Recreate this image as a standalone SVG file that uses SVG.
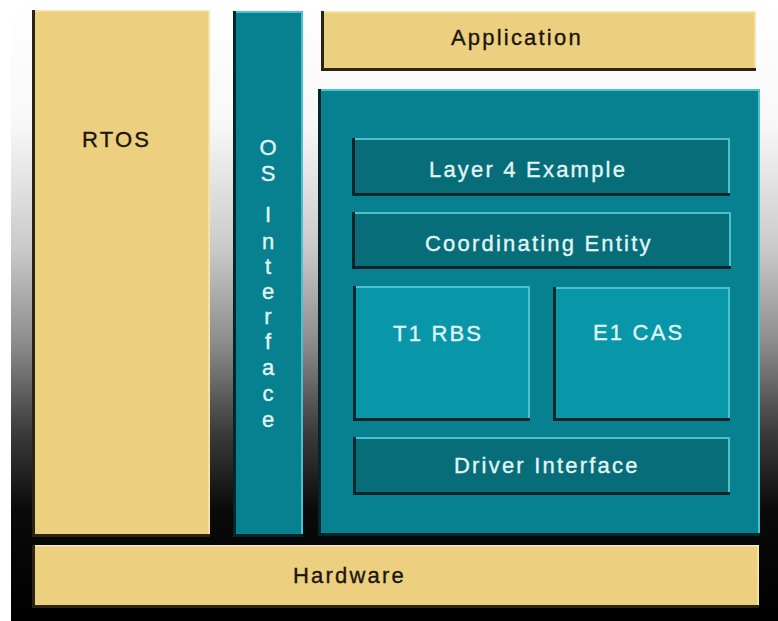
<svg xmlns="http://www.w3.org/2000/svg" width="778" height="621" viewBox="0 0 778 621">
<defs>
<linearGradient id="bg" x1="0" y1="0" x2="0" y2="1">
<stop offset="0" stop-color="#ffffff"/>
<stop offset="0.2" stop-color="#f8f8f8"/>
<stop offset="0.4" stop-color="#cacaca"/>
<stop offset="0.56" stop-color="#888888"/>
<stop offset="0.69" stop-color="#3e3e3e"/>
<stop offset="0.82" stop-color="#0a0a0a"/>
<stop offset="1" stop-color="#000000"/>
</linearGradient>
<style>
.tan{fill:#ecd07f}
.teal{fill:#07808f}
.dk{fill:#066d79}
.lt{fill:#0896a9}
.sh-tan{fill:none;stroke:#2c2412;stroke-width:3}
.hl-tan{fill:none;stroke:#f8e8b8;stroke-width:1.5}
.sh-teal{fill:none;stroke:#00262c;stroke-width:3}
.hl-teal{fill:none;stroke:#4cc0cc;stroke-width:2}
text{font-family:"Liberation Sans",Arial,sans-serif;font-size:22px;letter-spacing:2.2px;stroke-width:0.35px}
.tx-d{fill:#1a160e;stroke:#1a160e}
.tx-l{fill:#e2f6f6;stroke:#e2f6f6}
</style>
</defs>
<rect x="0" y="0" width="778" height="621" fill="#ffffff"/>
<rect x="11" y="0" width="767" height="621" fill="url(#bg)"/>

<g id="rtos">
<rect class="tan" x="32" y="10" width="178" height="527"/>
<path class="hl-tan" d="M34,10.8 H209.2 V534"/>
<path class="sh-tan" d="M33.5,10 V535.5 H210"/>
<text class="tx-d" x="82" y="147">RTOS</text>
</g>

<g id="os-interface">
<rect class="teal" x="233" y="11" width="70" height="526"/>
<path class="hl-teal" d="M235,12 H302 V534"/>
<path class="sh-teal" d="M234.5,11 V535.5 H303"/>
<text class="tx-l" text-anchor="middle" style="letter-spacing:0"><tspan x="268" y="155">O</tspan><tspan x="268" y="181">S</tspan><tspan x="268" y="222">I</tspan><tspan x="268" y="249">n</tspan><tspan x="268" y="274">t</tspan><tspan x="268" y="299">e</tspan><tspan x="268" y="324">r</tspan><tspan x="268" y="349">f</tspan><tspan x="268" y="375">a</tspan><tspan x="268" y="401">c</tspan><tspan x="268" y="427">e</tspan></text>
</g>

<g id="application">
<rect class="tan" x="321" y="11" width="435" height="60"/>
<path class="hl-tan" d="M323,11.8 H755.2 V68"/>
<path class="sh-tan" d="M322.5,11 V69.5 H756"/>
<text class="tx-d" x="451" y="45">Application</text>
</g>

<g id="container">
<rect class="teal" x="318" y="89" width="442" height="447"/>
<path class="hl-teal" d="M320,90 H759 V533"/>
<path class="sh-teal" d="M319.5,89 V534.5 H760"/>
</g>

<g id="layer4">
<rect class="dk" x="352" y="138" width="378" height="58"/>
<path class="hl-teal" d="M354,139 H729 V193"/>
<path class="sh-teal" d="M353.5,138 V194.5 H730"/>
<text class="tx-l" x="429" y="177">Layer 4 Example</text>
</g>

<g id="coordinating">
<rect class="dk" x="352" y="212" width="379" height="57"/>
<path class="hl-teal" d="M354,213 H730 V266"/>
<path class="sh-teal" d="M353.5,212 V267.5 H731"/>
<text class="tx-l" x="425" y="251">Coordinating Entity</text>
</g>

<g id="t1rbs">
<rect class="lt" x="353" y="286" width="177" height="135"/>
<path class="hl-teal" d="M355,287 H529 V418"/>
<path class="sh-teal" d="M354.5,286 V419.5 H530"/>
<text class="tx-l" x="393" y="341">T1 RBS</text>
</g>

<g id="e1cas">
<rect class="lt" x="553" y="287" width="177" height="134"/>
<path class="hl-teal" d="M555,288 H729 V418"/>
<path class="sh-teal" d="M554.5,287 V419.5 H730"/>
<text class="tx-l" x="593" y="340">E1 CAS</text>
</g>

<g id="driver">
<rect class="dk" x="353" y="437" width="377" height="58"/>
<path class="hl-teal" d="M355,438 H729 V492"/>
<path class="sh-teal" d="M354.5,437 V493.5 H730"/>
<text class="tx-l" x="454" y="473">Driver Interface</text>
</g>

<g id="hardware">
<rect class="tan" x="32" y="545" width="727" height="63"/>
<path class="hl-tan" d="M34,545.8 H758.2 V605"/>
<path class="sh-tan" d="M33.5,545 V606.5 H759"/>
<text class="tx-d" x="293" y="583">Hardware</text>
</g>

<g id="connectors"></g>
</svg>
